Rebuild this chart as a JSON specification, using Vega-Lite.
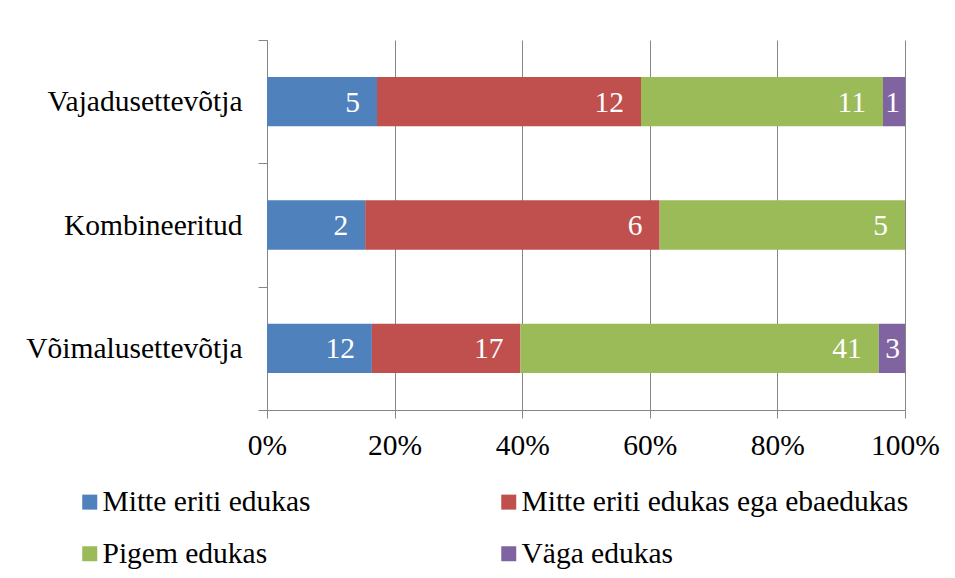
{
  "$schema": "https://vega.github.io/schema/vega-lite/v6.json",
  "width": 638,
  "height": 370,
  "autosize": {"type": "none"},
  "padding": {"left": 267, "top": 40, "right": 50, "bottom": 168},
  "background": "white",
  "config": {"font": "'Liberation Serif', 'DejaVu Serif', serif", "view": {"stroke": null}},
  "data": {"values": [
    {"category": "Vajadusettevõtja", "answer": "Mitte eriti edukas", "order": 1, "value": 5},
    {"category": "Vajadusettevõtja", "answer": "Mitte eriti edukas ega ebaedukas", "order": 2, "value": 12},
    {"category": "Vajadusettevõtja", "answer": "Pigem edukas", "order": 3, "value": 11},
    {"category": "Vajadusettevõtja", "answer": "Väga edukas", "order": 4, "value": 1},
    {"category": "Kombineeritud", "answer": "Mitte eriti edukas", "order": 1, "value": 2},
    {"category": "Kombineeritud", "answer": "Mitte eriti edukas ega ebaedukas", "order": 2, "value": 6},
    {"category": "Kombineeritud", "answer": "Pigem edukas", "order": 3, "value": 5},
    {"category": "Võimalusettevõtja", "answer": "Mitte eriti edukas", "order": 1, "value": 12},
    {"category": "Võimalusettevõtja", "answer": "Mitte eriti edukas ega ebaedukas", "order": 2, "value": 17},
    {"category": "Võimalusettevõtja", "answer": "Pigem edukas", "order": 3, "value": 41},
    {"category": "Võimalusettevõtja", "answer": "Väga edukas", "order": 4, "value": 3}
  ]},
  "transform": [
    {"stack": "value", "groupby": ["category"], "sort": [{"field": "order", "order": "ascending"}], "offset": "normalize", "as": ["x0", "x1"]}
  ],
  "encoding": {
    "y": {
      "field": "category", "type": "nominal",
      "sort": ["Vajadusettevõtja", "Kombineeritud", "Võimalusettevõtja"],
      "scale": {"paddingInner": 0, "paddingOuter": 0},
      "axis": {
        "title": null, "grid": false,
        "domainColor": "#868686", "tickColor": "#868686", "tickSize": 9, "tickBand": "extent",
        "labelFontSize": 29.5, "labelFont": "'Liberation Serif', 'DejaVu Serif', serif", "labelColor": "black", "labelPadding": 16, "labelLimit": 400
      }
    }
  },
  "layer": [
    {
      "mark": {"type": "bar", "height": {"band": 0.4}},
      "encoding": {
        "x": {
          "field": "x0", "type": "quantitative", "scale": {"domain": [0, 1], "nice": false},
          "axis": {
            "title": null, "format": ".0%", "values": [0, 0.2, 0.4, 0.6, 0.8, 1],
            "grid": true, "gridColor": "#868686", "domainColor": "#868686", "tickColor": "#868686",
            "tickSize": 8, "labelFontSize": 29.5, "labelFont": "'Liberation Serif', 'DejaVu Serif', serif", "labelColor": "black",
            "labelPadding": 13, "labelFlush": false
          }
        },
        "x2": {"field": "x1"},
        "color": {
          "field": "answer", "type": "nominal",
          "scale": {
            "domain": ["Mitte eriti edukas", "Mitte eriti edukas ega ebaedukas", "Pigem edukas", "Väga edukas"],
            "range": ["#4F81BD", "#C0504D", "#9BBB59", "#8064A2"]
          },
          "legend": {
            "title": null, "orient": "none", "legendX": -192, "legendY": 447, "columns": 2, "direction": "horizontal",
            "symbolType": "square", "symbolSize": 225, "symbolStrokeWidth": 0,
            "labelFontSize": 29.5, "labelFont": "'Liberation Serif', 'DejaVu Serif', serif", "labelColor": "black",
            "labelOffset": -2, "columnPadding": 183, "rowPadding": 21, "labelLimit": 500
          }
        }
      }
    },
    {
      "transform": [{"filter": "datum.answer !== 'Väga edukas'"}],
      "mark": {"type": "text", "align": "right", "baseline": "middle", "dx": -17, "dy": 1, "color": "white", "fontSize": 29.5},
      "encoding": {
        "x": {"field": "x1", "type": "quantitative"},
        "text": {"field": "value", "type": "quantitative"}
      }
    },
    {
      "transform": [{"filter": "datum.answer === 'Väga edukas'"}],
      "mark": {"type": "text", "align": "right", "baseline": "middle", "dx": -5, "dy": 1, "color": "white", "fontSize": 29.5},
      "encoding": {
        "x": {"field": "x1", "type": "quantitative"},
        "text": {"field": "value", "type": "quantitative"}
      }
    }
  ]
}
